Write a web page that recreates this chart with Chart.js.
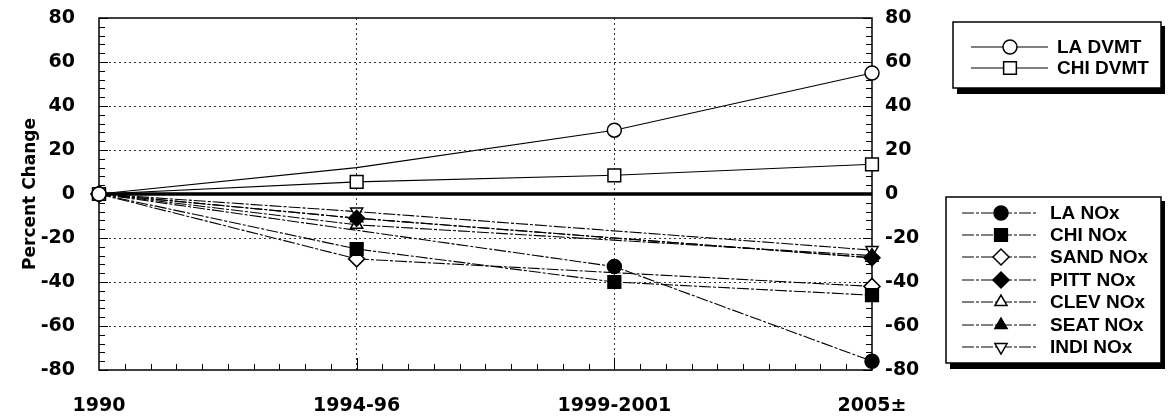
<!DOCTYPE html>
<html><head><meta charset="utf-8">
<script src="https://cdn.jsdelivr.net/npm/chart.js@4/dist/chart.umd.min.js"></script>
<style>html,body{margin:0;padding:0;background:#fff}</style>
</head><body>
<canvas id="c" width="1168" height="418"></canvas>
<script>
// ---- data ----
const categories = ['1990', '1994-96', '1999-2001', '2005±'];
const laDvmt   = [0, 12, 29, 55];
const chiDvmt  = [0, 5.5, 8.5, 13.5];
const laNox    = [0, null, -33, -76];
const chiNox   = [0, -25, -40, -46];
const sandNox  = [0, -29.5, null, -42];
const pittNox  = [0, -11, null, -29];
const clevNox  = [0, -14, null, -28];
const seatNox  = [0, -11, null, -29];
const indiNox  = [0, -8, null, -25.5];
const yMin = -80, yMax = 80, yStep = 20;

const BLACK = '#000', WHITE = '#fff';
const NOX_DASH = [12, 2, 3, 2];

function ds(label, data, style, fill, opts) {
  return Object.assign({
    label, data,
    pointStyle: style,
    pointRadius: 7,
    pointBackgroundColor: fill,
    pointBorderColor: BLACK,
    pointBorderWidth: 1.5,
    borderColor: BLACK,
    borderWidth: 1.1,
    borderDash: NOX_DASH,
    spanGaps: true,
    tension: 0,
    fill: false,
    legendGroup: 2
  }, opts || {});
}

const datasets = [
  ds('LA DVMT', laDvmt, 'circle', WHITE, {borderDash: [], pointRadius: [7, 0, 7, 7], legendGroup: 1}),
  ds('CHI DVMT', chiDvmt, 'rect', WHITE, {borderDash: [], pointRadius: 9, legendGroup: 1}),
  ds('LA NOx', laNox, 'circle', BLACK),
  ds('CHI NOx', chiNox, 'rect', BLACK, {pointRadius: 9}),
  ds('SAND NOx', sandNox, 'rectRot', WHITE, {pointRadius: 8}),
  ds('PITT NOx', pittNox, 'rectRot', BLACK, {pointRadius: 8}),
  ds('CLEV NOx', clevNox, 'triangle', WHITE),
  ds('SEAT NOx', seatNox, 'triangle', BLACK),
  ds('INDI NOx', indiNox, 'triangle', WHITE, {pointRotation: 180})
];

const TICK_FONT = {family: 'DejaVu Sans', weight: 'bold', size: 19};
const LEG_FONT = 'bold 19px "Liberation Sans", Arial, sans-serif';

function drawMarker(ctx, d, x, y) {
  const r = Array.isArray(d.pointRadius) ? d.pointRadius[0] : d.pointRadius;
  ctx.save();
  ctx.setLineDash([]);
  ctx.fillStyle = d.pointBackgroundColor;
  ctx.strokeStyle = BLACK;
  ctx.lineWidth = d.pointBorderWidth;
  Chart.helpers.drawPoint(ctx, {pointStyle: d.pointStyle, radius: r, rotation: d.pointRotation || 0, borderWidth: d.pointBorderWidth}, x, y);
  ctx.restore();
}

function drawLegend(ctx, chart, group, box, rows, lx1, lx2, mx, tx) {
  ctx.save();
  ctx.fillStyle = BLACK;
  ctx.fillRect(box.x + 4, box.y + 4, box.w, box.h + 2);
  ctx.fillStyle = WHITE;
  ctx.fillRect(box.x, box.y, box.w, box.h);
  ctx.strokeStyle = BLACK;
  ctx.lineWidth = 1.5;
  ctx.strokeRect(box.x, box.y, box.w, box.h);
  const items = chart.data.datasets.filter(d => d.legendGroup === group);
  items.forEach((d, i) => {
    const y = rows[i];
    ctx.beginPath();
    ctx.setLineDash(d.borderDash);
    ctx.lineWidth = 1.2;
    ctx.strokeStyle = BLACK;
    ctx.moveTo(lx1, y); ctx.lineTo(lx2, y);
    ctx.stroke();
    ctx.setLineDash([]);
    drawMarker(ctx, d, mx, y);
    ctx.fillStyle = BLACK;
    ctx.font = LEG_FONT;
    ctx.textBaseline = 'middle';
    ctx.textAlign = 'left';
    ctx.fillText(d.label, tx, y + 1);
  });
  ctx.restore();
}

const framePlugin = {
  id: 'framePlugin',
  beforeDatasetsDraw(chart) {
    const {ctx, chartArea: a, scales} = chart;
    const y = scales.y, x = scales.x;
    ctx.save();
    ctx.strokeStyle = BLACK;
    ctx.setLineDash([]);
    ctx.lineWidth = 1.5;
    ctx.strokeRect(a.left, a.top, a.right - a.left, a.bottom - a.top);
    ctx.lineWidth = 1;
    ctx.beginPath();
    for (let v = yMin; v <= yMax; v += 4) {
      const py = Math.round(y.getPixelForValue(v)) + 0.5;
      const len = (v % yStep === 0) ? 9 : 6;
      ctx.moveTo(a.left, py); ctx.lineTo(a.left + len, py);
      ctx.moveTo(a.right, py); ctx.lineTo(a.right - len, py);
    }
    for (let i = 0; i < categories.length - 1; i++) {
      const p0 = x.getPixelForTick(i), p1 = x.getPixelForTick(i + 1);
      for (let k = 1; k <= 10; k++) {
        const px = Math.round(p0 + (p1 - p0) * k / 10) + 0.5;
        const len = (k === 10) ? 12 : 6;
        ctx.moveTo(px, a.bottom); ctx.lineTo(px, a.bottom - len);
      }
    }
    ctx.stroke();
    const z = y.getPixelForValue(0);
    ctx.lineWidth = 3.5;
    ctx.beginPath();
    ctx.moveTo(a.left, z); ctx.lineTo(a.right, z);
    ctx.stroke();
    ctx.restore();
  },
  afterDraw(chart) {
    const ctx = chart.ctx;
    drawLegend(ctx, chart, 1, {x: 953, y: 22, w: 208, h: 66}, [47, 68], 971, 1048, 1010, 1057);
    drawLegend(ctx, chart, 2, {x: 946, y: 197, w: 215, h: 166}, [213, 235, 257, 280, 302, 325, 347], 962, 1038, 1001, 1050);
  }
};

function fixVPad(s) { s.paddingTop = 10; s.paddingBottom = 10; }

new Chart(document.getElementById('c'), {
  type: 'line',
  data: {labels: categories, datasets},
  plugins: [framePlugin],
  options: {
    responsive: false,
    animation: false,
    layout: {padding: {top: 18, left: 0, right: 216, bottom: 0}},
    plugins: {legend: {display: false}, tooltip: {enabled: false}},
    scales: {
      x: {
        type: 'category',
        offset: false,
        grid: {
          color: c => (c.index === 1 || c.index === 2) ? '#333' : 'rgba(0,0,0,0)',
          lineWidth: 1,
          drawTicks: false
        },
        border: {display: false, dash: [2, 3]},
        ticks: {font: TICK_FONT, color: BLACK, padding: 25, maxRotation: 0, autoSkip: false},
        afterFit: s => { s.height = 48; }
      },
      y: {
        position: 'left',
        min: yMin, max: yMax,
        grid: {
          color: c => (c.tick && (c.tick.value === yMin || c.tick.value === yMax || c.tick.value === 0)) ? 'rgba(0,0,0,0)' : '#333',
          lineWidth: 1,
          drawTicks: false
        },
        border: {display: false, dash: [2, 3]},
        ticks: {stepSize: yStep, font: TICK_FONT, color: BLACK, padding: 24},
        title: {display: true, text: 'Percent Change', color: BLACK,
                font: {family: 'DejaVu Sans', weight: 'bold', size: 17}, padding: {top: 20, bottom: 0}},
        afterFit: s => { s.width = 99; fixVPad(s); }
      },
      y2: {
        position: 'right',
        min: yMin, max: yMax,
        grid: {display: false, drawTicks: false},
        border: {display: false},
        ticks: {stepSize: yStep, font: TICK_FONT, color: BLACK, padding: 13},
        afterFit: s => { s.width = 80; fixVPad(s); }
      }
    }
  }
});
</script>
</body></html>
